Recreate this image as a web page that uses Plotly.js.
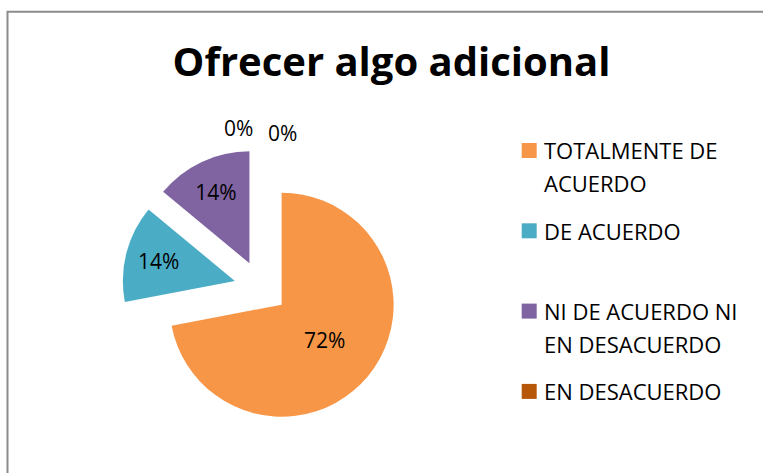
<!DOCTYPE html>
<html>
<head>
<meta charset="utf-8">
<script src="https://cdn.plot.ly/plotly-3.0.1.min.js"></script>
<style>html,body{margin:0;padding:0;background:#fff}#chart{width:763px;height:473px}</style>
</head>
<body>
<div id="chart"></div>
<script>
// ---- data ----
var categories = ['TOTALMENTE DE ACUERDO', 'DE ACUERDO', 'NI DE ACUERDO NI EN DESACUERDO', 'EN DESACUERDO', 'TOTALMENTE EN DESACUERDO'];
var values = [72, 14, 14, 0, 0];
var colors = ['#F79646', '#4BACC6', '#8064A2', '#B65708', '#7F7F7F'];
var legendShown = 4; // the fifth entry is cut off in the reference
var chartTitle = 'Ofrecer algo adicional';

// ---- derived ----
var W = 763, H = 473;
var total = values.reduce(function (a, b) { return a + b; }, 0);
var pctText = values.map(function (v) { return Math.round(v / total * 100) + '%'; });
var sliceText = values.map(function (v, i) { return v > 0 ? pctText[i] : ''; });

function wrap(s, maxChars) {
  var words = s.split(' '), lines = [], cur = '';
  words.forEach(function (w) {
    if (cur && (cur + ' ' + w).length > maxChars) { lines.push(cur); cur = w; }
    else { cur = cur ? cur + ' ' + w : w; }
  });
  if (cur) lines.push(cur);
  return lines;
}
function px(x) { return x / W; }
function py(y) { return 1 - y / H; }

var FONT = 'Open Sans, Liberation Sans, sans-serif';

var trace = {
  type: 'pie',
  labels: categories,
  values: values,
  text: sliceText,
  textinfo: 'text',
  textposition: 'inside',
  insidetextorientation: 'horizontal',
  insidetextfont: { family: FONT, size: 21, color: '#000000' },
  sort: false,
  direction: 'clockwise',
  rotation: 0,
  pull: 0.24,
  marker: { colors: colors, line: { width: 0 } },
  showlegend: false,
  hoverinfo: 'label+percent',
  domain: { x: [px(122), px(399.8)], y: [1 - 426.5 / H, 1 - 148.7 / H] }
};

var annotations = [];
var shapes = [];

// zero-value slice labels (shown above the pie, as in the reference)
var zeroPos = [[238, 128], [282, 133]];
var zi = 0;
values.forEach(function (v, i) {
  if (v === 0 && zi < zeroPos.length) {
    annotations.push({
      xref: 'paper', yref: 'paper', x: px(zeroPos[zi][0]), y: py(zeroPos[zi][1]),
      xanchor: 'center', yanchor: 'middle', showarrow: false,
      text: pctText[i], font: { family: FONT, size: 21, color: '#000000' }
    });
    zi++;
  }
});

// legend
var legTop = 150.5, legStep = 80.3, lineH = 32.8;
for (var i = 0; i < legendShown; i++) {
  var yc = legTop + i * legStep;
  shapes.push({
    type: 'rect', xref: 'paper', yref: 'paper',
    x0: px(521.7), x1: px(536.7), y0: py(yc + 7.5), y1: py(yc - 7.5),
    fillcolor: colors[i], line: { width: 0 }
  });
  wrap(categories[i], 16).forEach(function (ln, k) {
    annotations.push({
      xref: 'paper', yref: 'paper', x: px(542), y: py(yc + k * lineH),
      xanchor: 'left', yanchor: 'middle', showarrow: false,
      text: ln, font: { family: FONT, size: 22, color: '#000000' }
    });
  });
}

// chart area frame
shapes.push({
  type: 'rect', xref: 'paper', yref: 'paper', layer: 'below',
  x0: px(7.5), x1: 1.2, y0: -0.2, y1: py(11.8),
  line: { color: '#8C8C8C', width: 2 }, fillcolor: 'rgba(0,0,0,0)'
});

var layout = {
  width: W, height: H,
  margin: { l: 0, r: 0, t: 0, b: 0 },
  paper_bgcolor: '#ffffff',
  plot_bgcolor: '#ffffff',
  title: {
    text: '<b>' + chartTitle + '</b>',
    x: px(391.5), xanchor: 'center', xref: 'container',
    y: py(62), yanchor: 'middle', yref: 'container',
    font: { family: FONT, size: 40, color: '#000000' }
  },
  showlegend: false,
  annotations: annotations,
  shapes: shapes
};

Plotly.newPlot('chart', [trace], layout, { displayModeBar: false, staticPlot: true });
</script>
</body>
</html>
